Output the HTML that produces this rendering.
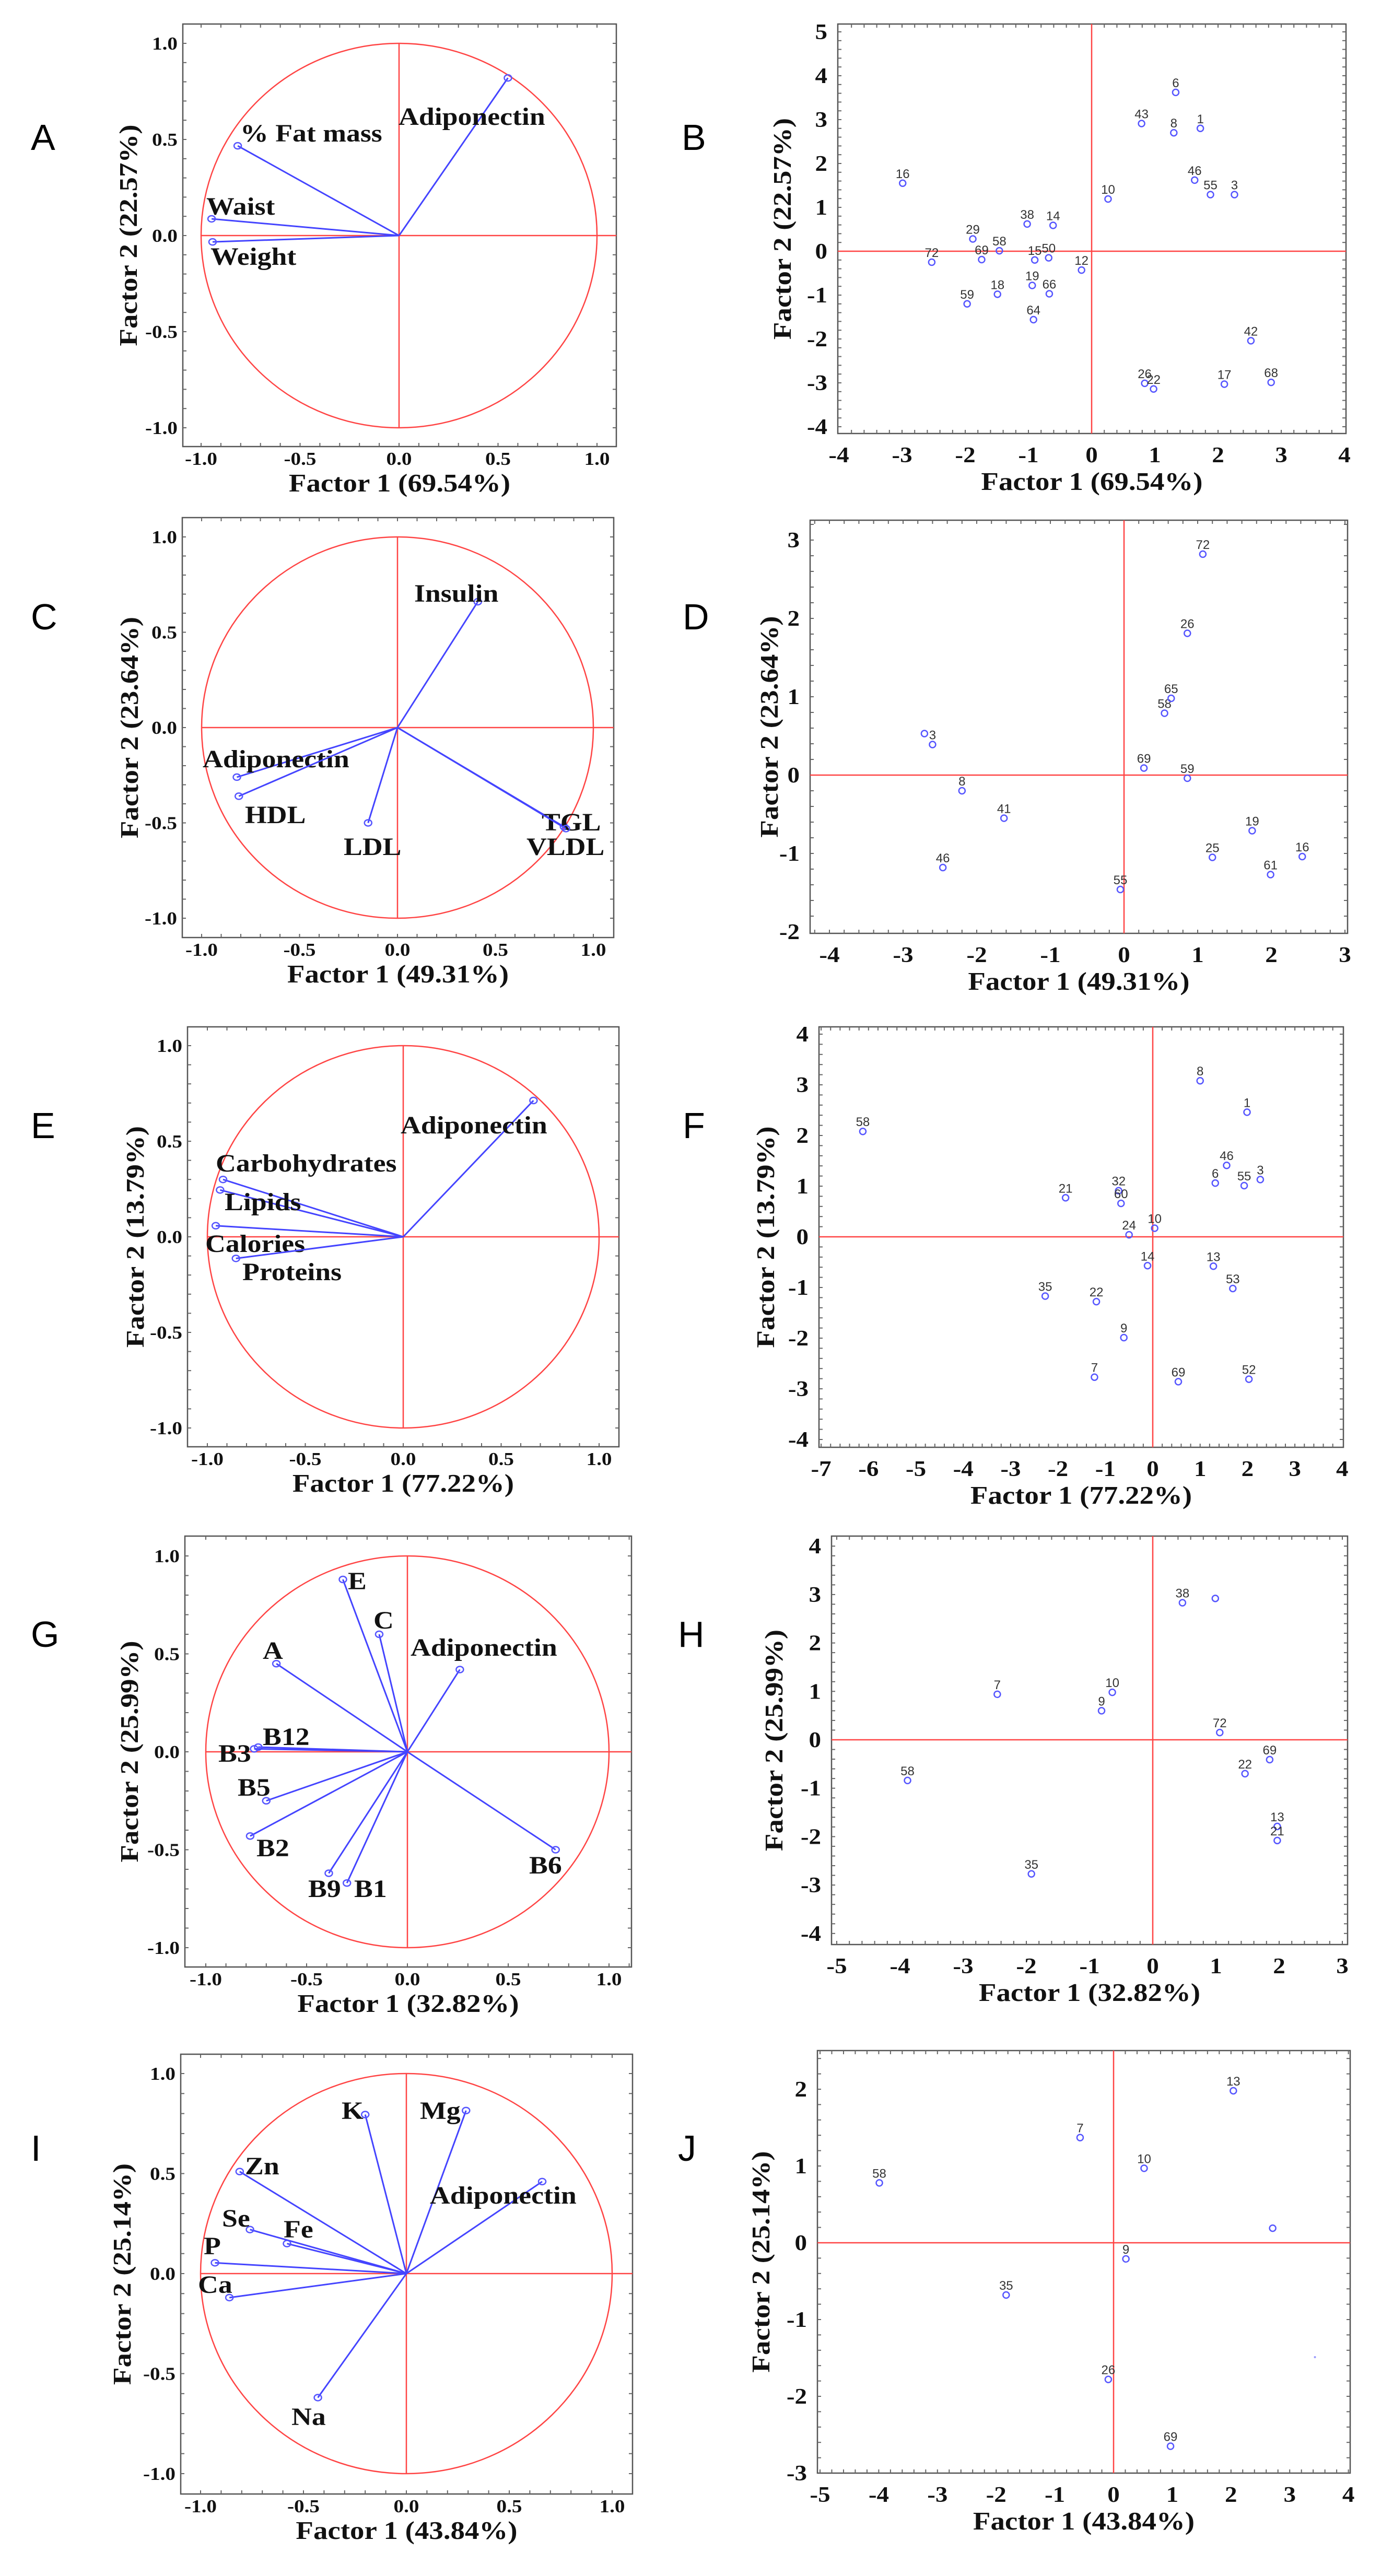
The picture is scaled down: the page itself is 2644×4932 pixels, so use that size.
<!DOCTYPE html>
<html><head><meta charset="utf-8"><title>PCA figure</title>
<style>html,body{margin:0;padding:0;background:#fff}svg{display:block}</style></head>
<body>
<svg id="fig" xmlns="http://www.w3.org/2000/svg" width="2644" height="4932" viewBox="0 0 2644 4932"></svg>
<script>
// ---------- DATA ----------
const aVars = ["Adiponectin","% Fat mass","Waist","Weight"];
const aX = [0.55,-0.815,-0.947,-0.942];
const aY = [0.82,0.467,0.087,-0.033];
const bIds = ["16","72","29","69","58","59","18","38","14","15","50","19","66","64","12","10","43","6","8","1","46","55","3","42","26","22","17","68"];
const bX = [-2.99,-2.53,-1.88,-1.74,-1.46,-1.97,-1.49,-1.02,-0.61,-0.9,-0.68,-0.94,-0.67,-0.92,-0.16,0.26,0.79,1.33,1.30,1.72,1.63,1.88,2.26,2.52,0.84,0.98,2.10,2.84];
const bY = [1.55,-0.25,0.28,-0.19,0.01,-1.2,-0.98,0.62,0.59,-0.2,-0.15,-0.78,-0.97,-1.56,-0.43,1.19,2.91,3.62,2.70,2.80,1.62,1.29,1.29,-2.04,-3.01,-3.14,-3.03,-2.99];
const cVars = ["Insulin","Adiponectin","HDL","LDL","TGL","VLDL"];
const cX = [0.41,-0.82,-0.81,-0.15,0.85,0.86];
const cY = [0.66,-0.26,-0.36,-0.50,-0.52,-0.53];
const dIds = ["","3","8","41","46","55","69","59","58","65","26","72","19","25","61","16"];
const dX = [-2.71,-2.6,-2.20,-1.63,-2.46,-0.05,0.27,0.86,0.55,0.64,0.86,1.07,1.74,1.20,1.99,2.42];
const dY = [0.53,0.39,-0.20,-0.55,-1.18,-1.46,0.09,-0.04,0.79,0.98,1.81,2.82,-0.71,-1.05,-1.27,-1.04];
const eVars = ["Adiponectin","Carbohydrates","Lipids","Calories","Proteins"];
const eX = [0.665,-0.92,-0.935,-0.957,-0.854];
const eY = [0.713,0.30,0.245,0.058,-0.113];
const fIds = ["58","8","1","46","6","55","3","21","32","60","10","24","14","13","53","35","22","9","7","69","52"];
const fX = [-6.12,1.0,1.99,1.56,1.32,1.93,2.27,-1.84,-0.72,-0.67,0.04,-0.5,-0.11,1.28,1.69,-2.27,-1.19,-0.61,-1.23,0.54,2.03];
const fY = [2.08,3.08,2.46,1.41,1.06,1.01,1.13,0.77,0.91,0.66,0.17,0.04,-0.57,-0.58,-1.02,-1.17,-1.28,-1.99,-2.77,-2.86,-2.81];
const gVars = ["E","C","A","Adiponectin","B12","B3","B5","B2","B9","B1","B6"];
const gX = [-0.32,-0.14,-0.65,0.26,-0.74,-0.76,-0.70,-0.78,-0.39,-0.30,0.735];
const gY = [0.88,0.60,0.45,0.42,0.024,0.015,-0.25,-0.43,-0.62,-0.67,-0.50];
const hIds = ["38","","7","10","9","72","69","22","13","21","58","35"];
const hX = [0.47,0.99,-2.46,-0.64,-0.81,1.06,1.85,1.46,1.97,1.97,-3.88,-1.92];
const hY = [2.83,2.92,0.94,0.98,0.60,0.15,-0.41,-0.70,-1.79,-2.08,-0.84,-2.77];
const iVars = ["K","Mg","Zn","Adiponectin","Se","Fe","P","Ca","Na"];
const iX = [-0.20,0.29,-0.81,0.66,-0.76,-0.58,-0.93,-0.86,-0.43];
const iY = [0.795,0.815,0.51,0.46,0.22,0.15,0.054,-0.12,-0.62];
const jIds = ["58","7","10","13","","9","35","26","69"];
const jX = [-3.99,-0.57,0.52,2.04,2.71,0.21,-1.83,-0.09,0.97];
const jY = [0.78,1.37,0.97,1.98,0.19,-0.21,-0.68,-1.78,-2.65];
const circTicks = ["-1.0","-0.5","0.0","0.5","1.0"];
const bXT = [-4,-3,-2,-1,0,1,2,3,4], bYT = [-4,-3,-2,-1,0,1,2,3,4,5];
const dXT = [-4,-3,-2,-1,0,1,2,3], dYT = [-2,-1,0,1,2,3];
const fXT = [-7,-6,-5,-4,-3,-2,-1,0,1,2,3,4], fYT = [-4,-3,-2,-1,0,1,2,3,4];
const hXT = [-5,-4,-3,-2,-1,0,1,2,3], hYT = [-4,-3,-2,-1,0,1,2,3,4];
const jXT = [-5,-4,-3,-2,-1,0,1,2,3,4], jYT = [-3,-2,-1,0,1,2];

// ---------- DRAWING ----------
const NS = "http://www.w3.org/2000/svg";
const svg = document.getElementById("fig");
const SX = 1.12;
function el(tag, attrs, parent){
  const e = document.createElementNS(NS, tag);
  for (const k in attrs) e.setAttribute(k, attrs[k]);
  (parent||svg).appendChild(e);
  return e;
}
function stext(parent, x, y, s, size, anchor, rot, serif, fill){
  const t = el("text", {
    transform: "translate(" + x + "," + y + ")" + (rot ? " rotate(" + rot + ")" : "") + (serif ? " scale(" + SX + ",1)" : ""),
    "font-family": serif ? '"Liberation Serif", serif' : '"Liberation Sans", sans-serif',
    "font-weight": serif ? "bold" : "normal",
    "font-size": size, "text-anchor": anchor || "start", fill: fill || "#111"
  }, parent);
  t.textContent = s;
  return t;
}
function frame(g, p){
  el("rect", {x:p.l, y:p.t, width:p.r-p.l, height:p.b-p.t, fill:"none", stroke:"#555", "stroke-width":2.5}, g);
}
function minorTicks(g, p, xs, ys){
  xs.forEach(function(x){
    el("line",{x1:x,y1:p.b,x2:x,y2:p.b-7,stroke:"#666","stroke-width":2},g);
    el("line",{x1:x,y1:p.t,x2:x,y2:p.t+7,stroke:"#666","stroke-width":2},g);
  });
  ys.forEach(function(y){
    el("line",{x1:p.l,y1:y,x2:p.l+7,y2:y,stroke:"#666","stroke-width":2},g);
    el("line",{x1:p.r,y1:y,x2:p.r-7,y2:y,stroke:"#666","stroke-width":2},g);
  });
}
function panelLetter(g, letter, x, y){
  const t = stext(g, x, y, letter, 70, "start", 0, false, "#000");
  
  
}

function circlePanel(name, p, vars, xs, ys, labelPos, xTitle, yTitle, yTitleX){
  const g = el("g", {});
  
  
  const px = function(v){ return p.cx + v * p.ux; };
  const py = function(v){ return p.cy - v * p.uy; };
  frame(g, p);
  const mx = [], my = [];
  for (let v = -1.1; v <= 1.101; v += 0.1){ const X = px(v); if (X > p.l+3 && X < p.r-3) mx.push(X); const Y = py(v); if (Y > p.t+3 && Y < p.b-3) my.push(Y); }
  minorTicks(g, p, mx, my);
  const circ = el("ellipse", {cx:px(0), cy:py(0), rx:p.ux, ry:p.uy, fill:"none", stroke:"#f44", "stroke-width":2.5}, g);
  
  
  el("line", {x1:px(-1), y1:py(0), x2:p.r, y2:py(0), stroke:"#f44", "stroke-width":2.5}, g);
  el("line", {x1:px(0), y1:py(1), x2:px(0), y2:py(-1), stroke:"#f44", "stroke-width":2.5}, g);
  vars.forEach(function(v, i){
    const ln = el("line", {x1:px(0), y1:py(0), x2:px(xs[i]), y2:py(ys[i]), stroke:"#44f", "stroke-width":3}, g);
    
    
    el("ellipse", {cx:px(xs[i]), cy:py(ys[i]), rx:7, ry:6, fill:"none", stroke:"#55f", "stroke-width":2.5}, g);
    const lp = labelPos[i];
    const t = stext(g, lp[0], lp[1], v, 48, "start", 0, true);
    
    
  });
  circTicks.forEach(function(s){
    const v = parseFloat(s);
    const tx = stext(g, px(v), p.b + 35, s, 35, "middle", 0, true);
    
    
    const ty = stext(g, p.l - 10, py(v) + 12, s, 35, "end", 0, true);
    
    
  });
  const xt = stext(g, (p.l + p.r)/2, p.b + 86, xTitle, 49, "middle", 0, true);
  
  
  const yt = stext(g, yTitleX, (p.t + p.b)/2, yTitle, 49, "middle", -90, true);
  
  
}

function scatterPanel(name, p, ids, xs, ys, xTicks, yTicks, xTitle, yTitle, yTitleX){
  const g = el("g", {});
  
  
  const px = function(v){ return p.cx + v * p.ux; };
  const py = function(v){ return p.cy - v * p.uy; };
  frame(g, p);
  const mx = [], my = [];
  for (let v = -10; v <= 10.001; v += 0.2){ const X = px(v); if (X > p.l+3 && X < p.r-3) mx.push(X); const Y = py(v); if (Y > p.t+3 && Y < p.b-3) my.push(Y); }
  minorTicks(g, p, mx, my);
  el("line", {x1:p.l, y1:py(0), x2:p.r, y2:py(0), stroke:"#f44", "stroke-width":2.5}, g);
  el("line", {x1:px(0), y1:p.t, x2:px(0), y2:p.b, stroke:"#f44", "stroke-width":2.5}, g);
  ids.forEach(function(id, i){
    const c = el("circle", {cx:px(xs[i]), cy:py(ys[i]), r:6, fill:"none", stroke:"#55f", "stroke-width":2.5}, g);
    
    
    if (id){
      const t = stext(g, px(xs[i]), py(ys[i]) - 10, id, 24, "middle", 0, false, "#333");
      
      
    }
  });
  xTicks.forEach(function(v){
    const tx = stext(g, px(v), p.b + 55, String(v), 42, "middle", 0, true);
    
    
  });
  yTicks.forEach(function(v){
    const ty = stext(g, p.l - 20, py(v) + 14, String(v), 42, "end", 0, true);
    
    
  });
  const xt = stext(g, (p.l + p.r)/2, p.b + 108, xTitle, 49, "middle", 0, true);
  
  
  const yt = stext(g, yTitleX, (p.t + p.b)/2, yTitle, 49, "middle", -90, true);
  
  
}

circlePanel("a", {l:350,t:46,r:1180,b:855,cx:764,ux:379,cy:451,uy:368}, aVars, aX, aY,
  [[763,239],[460,271],[395,411],[403,507]], "Factor 1 (69.54%)", "Factor  2 (22.57%)", 262);
scatterPanel("b", {l:1604,t:46,r:2577,b:830,cx:2090,ux:121,cy:481,uy:84}, bIds, bX, bY, bXT, bYT,
  "Factor 1 (69.54%)", "Factor  2 (22.57%)", 1514);
circlePanel("c", {l:349,t:991,r:1175,b:1795,cx:761,ux:375,cy:1393,uy:365}, cVars, cX, cY,
  [[793,1152],[388,1469],[469,1576],[658,1637],[1037,1590],[1008,1637]], "Factor 1 (49.31%)", "Factor  2 (23.64%)", 264);
scatterPanel("d", {l:1551,t:996,r:2580,b:1787,cx:2152,ux:141,cy:1484,uy:150}, dIds, dX, dY, dXT, dYT,
  "Factor 1 (49.31%)", "Factor  2 (23.64%)", 1489);
circlePanel("e", {l:359,t:1966,r:1185,b:2770,cx:772,ux:375,cy:2368,uy:366}, eVars, eX, eY,
  [[767,2170],[413,2243],[430,2317],[393,2397],[464,2451]], "Factor 1 (77.22%)", "Factor  2 (13.79%)", 275);
scatterPanel("f", {l:1568,t:1966,r:2572,b:2771,cx:2207,ux:90.7,cy:2368,uy:97}, fIds, fX, fY, fXT, fYT,
  "Factor 1 (77.22%)", "Factor  2 (13.79%)", 1482);
circlePanel("g", {l:354,t:2941,r:1209,b:3766,cx:780,ux:386,cy:3354,uy:375}, gVars, gX, gY,
  [[666,3043],[715,3118],[503,3176],[786,3170],[503,3341],[418,3373],[455,3438],[491,3554],[590,3632],[678,3632],[1013,3587]],
  "Factor 1 (32.82%)", "Factor  2 (25.99%)", 264);
scatterPanel("h", {l:1592,t:2941,r:2580,b:3723,cx:2207,ux:121,cy:3331,uy:92.7}, hIds, hX, hY, hXT, hYT,
  "Factor 1 (32.82%)", "Factor  2 (25.99%)", 1498);
circlePanel("i", {l:346,t:3933,r:1211,b:4775,cx:778,ux:394,cy:4353,uy:383}, iVars, iX, iY,
  [[654,4057],[804,4057],[469,4163],[823,4219],[425,4263],[543,4284],[390,4316],[379,4390],[558,4643]],
  "Factor 1 (43.84%)", "Factor  2 (25.14%)", 250);
scatterPanel("j", {l:1565,t:3926,r:2585,b:4735,cx:2132,ux:112.4,cy:4294,uy:147}, jIds, jX, jY, jXT, jYT,
  "Factor 1 (43.84%)", "Factor  2 (25.14%)", 1473);
const dot = el("circle", {cx:2132 + 3.43*112.4, cy:4294 + 1.49*147, r:2, fill:"#99f"});



panelLetter(svg, "A", 59, 287);
panelLetter(svg, "B", 1305, 287);
panelLetter(svg, "C", 59, 1205);
panelLetter(svg, "D", 1307, 1205);
panelLetter(svg, "E", 59, 2179);
panelLetter(svg, "F", 1307, 2179);
panelLetter(svg, "G", 59, 3153);
panelLetter(svg, "H", 1298, 3153);
panelLetter(svg, "I", 59, 4137);
panelLetter(svg, "J", 1298, 4137);
</script>
</body></html>
